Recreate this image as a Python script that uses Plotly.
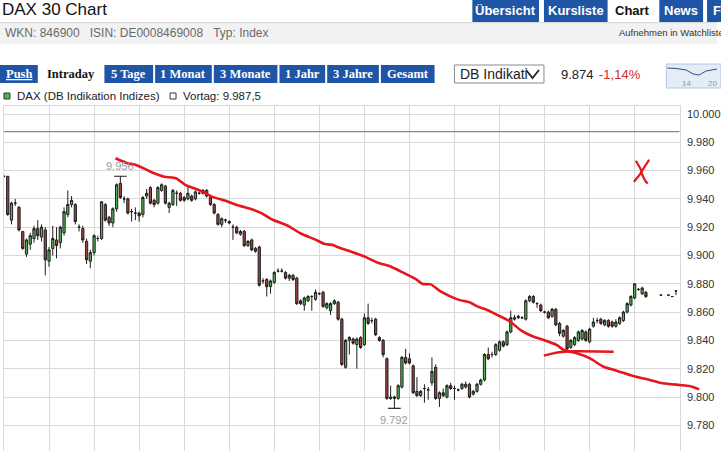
import plotly.graph_objects as go

W, H = 721, 451

# ---------------- data ----------------
slot = list(range(180))  # 5-minute slots from the start of the trading day

open_ = [
    9956, 9956, 9925, 9937, 9934, 9917, 9901, 9908, 9912, 9919, 9913, 9918,
    9896, 9905, 9911, 9909, 9916, 9929, 9936, 9936, 9920, 9919, 9910, 9896,
    9902, 9912, 9912, 9936, 9927, 9923, 9933, 9951, 9940, 9940, 9931, 9930,
    9930, 9929, 9942, 9948, 9939, 9937, 9946, 9949, 9934, 9936, 9944, 9944,
    9941, 9940, 9942, 9940, 9944, 9944, 9946, 9941, 9936, 9929, 9922, 9925,
    9924, 9920, 9920, 9915, 9917, 9907, 9911, 9905, 9906, 9882, 9883, 9878,
    9881, 9889, 9889, 9888, 9884, 9886, 9884, 9868, 9865, 9868, 9871, 9869,
    9873, 9874, 9863, 9861, 9866, 9867, 9855, 9821, 9840, 9841, 9837, 9842,
    9837, 9856, 9854, 9855, 9842, 9840, 9827, 9800, 9799, 9799, 9807, 9828,
    9827, 9822, 9804, 9801, 9806, 9805, 9810, 9821, 9799, 9803, 9800, 9808,
    9806, 9805, 9806, 9807, 9809, 9802, 9804, 9809, 9812, 9830, 9830, 9830,
    9833, 9839, 9837, 9846, 9855, 9856, 9856, 9855, 9868, 9871, 9866, 9865,
    9860, 9860, 9857, 9862, 9852, 9843, 9850, 9835, 9837, 9840, 9841, 9846,
    9839, 9850, 9854, 9855, 9851, 9854, 9853, 9850, 9852, 9854, 9860, 9865,
    9870, 9876, 9873, 9874, None, None, None, 9872, None, 9872, 9871, 9875,
]
high = [
    9956, 9956, 9938, 9940, 9935, 9917, 9912, 9916, 9921, 9925, 9922, 9920,
    9906, 9921, 9920, 9921, 9934, 9946, 9942, 9937, 9922, 9921, 9912, 9904,
    9915, 9914, 9938, 9937, 9928, 9934, 9951, 9956, 9942, 9941, 9933, 9934,
    9931, 9942, 9947, 9949, 9940, 9949, 9951, 9950, 9938, 9947, 9946, 9945,
    9942, 9950, 9943, 9946, 9945, 9947, 9947, 9942, 9937, 9930, 9927, 9926,
    9925, 9922, 9921, 9918, 9918, 9911, 9912, 9906, 9907, 9884, 9884, 9883,
    9889, 9891, 9891, 9889, 9887, 9887, 9885, 9869, 9871, 9872, 9872, 9876,
    9874, 9875, 9867, 9867, 9869, 9868, 9856, 9841, 9843, 9842, 9842, 9843,
    9859, 9866, 9856, 9856, 9843, 9841, 9828, 9808, 9801, 9809, 9829, 9834,
    9831, 9823, 9814, 9805, 9809, 9807, 9828, 9823, 9804, 9806, 9809, 9810,
    9808, 9806, 9810, 9811, 9810, 9805, 9810, 9813, 9831, 9835, 9832, 9838,
    9840, 9840, 9847, 9861, 9858, 9858, 9857, 9869, 9872, 9872, 9867, 9866,
    9861, 9861, 9863, 9863, 9853, 9848, 9851, 9841, 9843, 9847, 9848, 9847,
    9849, 9856, 9856, 9856, 9855, 9855, 9854, 9855, 9857, 9861, 9867, 9872,
    9880, 9877, 9878, 9875, None, None, None, 9872, None, 9872, 9871, 9875,
]
low = [
    9955, 9928, 9922, 9935, 9917, 9904, 9899, 9904, 9909, 9911, 9910, 9886,
    9892, 9900, 9898, 9905, 9914, 9927, 9934, 9922, 9917, 9909, 9894, 9891,
    9900, 9910, 9911, 9924, 9921, 9920, 9931, 9940, 9937, 9929, 9924, 9925,
    9924, 9927, 9940, 9936, 9934, 9936, 9945, 9936, 9930, 9935, 9935, 9938,
    9938, 9939, 9938, 9939, 9943, 9943, 9941, 9935, 9929, 9921, 9920, 9923,
    9922, 9911, 9915, 9914, 9906, 9906, 9903, 9902, 9878, 9880, 9871, 9873,
    9880, 9888, 9888, 9883, 9882, 9882, 9865, 9865, 9861, 9867, 9861, 9868,
    9872, 9863, 9862, 9858, 9865, 9854, 9822, 9820, 9830, 9837, 9820, 9834,
    9836, 9851, 9852, 9843, 9839, 9828, 9798, 9798, 9792, 9798, 9806, 9823,
    9823, 9802, 9800, 9800, 9796, 9798, 9808, 9798, 9793, 9800, 9799, 9805,
    9798, 9804, 9805, 9806, 9799, 9801, 9803, 9808, 9811, 9826, 9828, 9829,
    9832, 9835, 9836, 9845, 9854, 9855, 9855, 9854, 9867, 9866, 9863, 9860,
    9859, 9855, 9856, 9850, 9843, 9842, 9833, 9834, 9836, 9839, 9840, 9839,
    9838, 9849, 9852, 9851, 9850, 9849, 9849, 9849, 9851, 9853, 9859, 9864,
    9869, 9875, 9872, 9870, None, None, None, 9872, None, 9872, 9871, 9872,
]
close = [
    9956, 9929, 9937, 9937, 9918, 9905, 9911, 9914, 9919, 9914, 9920, 9897,
    9904, 9912, 9907, 9920, 9931, 9936, 9939, 9924, 9920, 9911, 9897, 9902,
    9914, 9912, 9938, 9925, 9923, 9933, 9950, 9941, 9940, 9930, 9931, 9930,
    9928, 9941, 9944, 9937, 9936, 9948, 9950, 9937, 9937, 9946, 9944, 9939,
    9939, 9944, 9939, 9945, 9944, 9946, 9942, 9936, 9930, 9922, 9926, 9925,
    9923, 9920, 9916, 9917, 9907, 9910, 9904, 9903, 9879, 9882, 9878, 9882,
    9888, 9889, 9889, 9884, 9886, 9883, 9866, 9866, 9870, 9871, 9871, 9874,
    9873, 9864, 9866, 9866, 9868, 9855, 9823, 9840, 9842, 9838, 9841, 9835,
    9856, 9852, 9854, 9844, 9840, 9830, 9799, 9799, 9800, 9808, 9828, 9824,
    9824, 9803, 9801, 9804, 9806, 9805, 9818, 9799, 9803, 9801, 9808, 9806,
    9806, 9805, 9809, 9809, 9800, 9804, 9809, 9812, 9830, 9827, 9830, 9837,
    9839, 9836, 9846, 9856, 9856, 9857, 9856, 9868, 9871, 9867, 9866, 9861,
    9860, 9856, 9862, 9851, 9845, 9847, 9834, 9840, 9842, 9846, 9847, 9840,
    9848, 9853, 9854, 9852, 9854, 9850, 9850, 9853, 9856, 9860, 9866, 9871,
    9880, 9876, 9877, 9871, None, None, None, 9872, None, 9872, 9871, 9875,
]

vortag = 9987.5
last_price = 9874
change_pct = -1.14
high_slot = 31
low_slot = 104

# hand-drawn red annotation (slot, price)
trend_slot = [29.7, 32.9, 35.2, 37.8, 40.0, 42.7, 45.8, 48.4, 51.9, 55.4, 59.0, 62.5,
              66.0, 68.7, 71.3, 75.8, 78.9, 82.8, 85.5, 87.7, 89.0, 92.5, 96.1, 99.6,
              103.1, 106.7, 109.8, 111.5, 113.7, 116.4, 120.8, 124.3, 126.1, 128.7,
              131.4, 134.9, 137.6, 141.1, 143.8, 147.3, 149.1, 152.6, 156.1, 159.7,
              163.2, 167.6, 171.1, 175.5, 180.0, 182.6, 185.2]
trend_price = [9968.7, 9965.2, 9964.0, 9960.9, 9958.1, 9955.7, 9954.6, 9949.8, 9946.3,
               9941.6, 9938.7, 9935.3, 9932.7, 9929.8, 9925.6, 9920.8, 9915.7, 9911.4,
               9908.1, 9907.4, 9905.8, 9902.7, 9899.2, 9894.9, 9892.1, 9887.4, 9883.2,
               9879.9, 9879.6, 9874.4, 9869.0, 9866.6, 9864.0, 9861.5, 9858.0, 9853.2,
               9847.3, 9842.6, 9840.3, 9836.7, 9833.2, 9830.9, 9827.3, 9821.4, 9818.6,
               9814.8, 9812.7, 9809.7, 9808.5, 9807.8, 9805.4]
support_slot = [143.8, 146.0, 148.6, 152.6, 157.9, 162.4]
support_price = [9829.3, 9830.7, 9831.8, 9832.3, 9832.2, 9832.0]
cross_a_slot = [168.3, 168.9, 169.6, 169.9, 170.3, 170.9, 171.5]
cross_a_price = [9967.0, 9964.3, 9961.0, 9958.0, 9955.5, 9952.5, 9951.0]
cross_b_slot = [171.4, 171.8, 171.0, 170.1, 169.3, 168.4, 167.8]
cross_b_price = [9966.0, 9967.2, 9964.2, 9960.4, 9957.0, 9954.1, 9952.0]

period_buttons = ["Push", "Intraday", "5 Tage", "1 Monat", "3 Monate", "1 Jahr", "3 Jahre", "Gesamt"]
nav_tabs = ["Übersicht", "Kursliste", "Chart", "News", "Forum"]


def de(v, nd=0):
    s = f"{v:,.{nd}f}"
    return s.replace(",", "#").replace(".", ",").replace("#", ".")


# ---------------- geometry (pixels) ----------------
PLOT_L, PLOT_R, PLOT_T = 4, 683.5, 106
PX_PER_PT = 1.415
Y_TOP = 10000 + (114 - PLOT_T) / PX_PER_PT
Y_BOT = 10000 - (H - 114) / PX_PER_PT
SLOT_PX = (PLOT_R - PLOT_L) / 180
X2_R = 715


def px(x):
    return x / W


def py(y):
    return 1 - y / H


BLUE = "#1f55a6"
fig = go.Figure()

fig.add_trace(go.Candlestick(
    x=slot, open=open_, high=high, low=low, close=close,
    increasing=dict(fillcolor="#54b454", line=dict(color="#1e1e1e", width=1)),
    decreasing=dict(fillcolor="#a34040", line=dict(color="#1e1e1e", width=1)),
    whiskerwidth=0, hoverinfo="skip", xaxis="x", yaxis="y"))

fig.add_trace(go.Scatter(x=[slot[0], slot[-1] + 1], y=[vortag, vortag], mode="lines",
                         line=dict(color="#6e6e6e", width=1), hoverinfo="skip",
                         xaxis="x", yaxis="y"))

fig.add_trace(go.Scatter(x=[slot[high_slot], slot[low_slot]],
                         y=[high[high_slot], low[low_slot]], mode="markers",
                         marker=dict(symbol="line-ew", size=9,
                                     line=dict(width=1.2, color="#1e1e1e")),
                         hoverinfo="skip", xaxis="x", yaxis="y"))

red = "#e5161d"
for xs, ys, wd in [(trend_slot, trend_price, 2.6), (support_slot, support_price, 2.4),
                   (cross_a_slot, cross_a_price, 2.2), (cross_b_slot, cross_b_price, 2.2)]:
    fig.add_trace(go.Scatter(x=xs, y=ys, mode="lines",
                             line=dict(color=red, width=wd, shape="spline", smoothing=0.6),
                             hoverinfo="skip", xaxis="x2", yaxis="y2"))

ann = []
shapes = []

# extreme labels
ann.append(dict(x=slot[high_slot], y=high[high_slot], xref="x", yref="y", text=de(high[high_slot]),
                showarrow=False, yanchor="bottom", yshift=2,
                font=dict(family="Liberation Sans, Arial", size=11, color="#9a9a9a")))
ann.append(dict(x=slot[low_slot], y=low[low_slot], xref="x", yref="y", text=de(low[low_slot]),
                showarrow=False, yanchor="top", yshift=-4,
                font=dict(family="Liberation Sans, Arial", size=11, color="#9a9a9a")))


def label(text, x, y, size, color="#222", family="Liberation Sans, Arial", xanchor="left"):
    ann.append(dict(x=px(x), y=py(y), xref="paper", yref="paper", text=text, showarrow=False,
                    xanchor=xanchor, yanchor="middle", font=dict(family=family, size=size, color=color)))


def rect(x0, y0, x1, y1, fill, line=None, lw=1):
    shapes.append(dict(type="rect", xref="paper", yref="paper", x0=px(x0), x1=px(x1),
                       y0=py(y1), y1=py(y0), fillcolor=fill,
                       line=dict(color=line or fill, width=lw if line else 0), layer="below"))


# header
label("DAX 30 Chart", 0, 9.5, 17, "#111")
rect(0, 23, W, 44, "#f2f2f2")
shapes.append(dict(type="line", xref="paper", yref="paper", x0=0, x1=1, y0=py(22.6), y1=py(22.6),
                   line=dict(color="#d6d6d6", width=1)))
label("WKN: 846900&nbsp;&nbsp;&nbsp;ISIN: DE0008469008&nbsp;&nbsp;&nbsp;Typ: Index", 3, 33.5, 12, "#6a6a6a")
label("Aufnehmen in Watchliste", 620, 33, 9.5, "#333")

# navigation tabs
tab_pos = [(475, 542), (547, 611), (615, 658), (663, 707), (711, 760)]
for name, (x0, x1) in zip(nav_tabs, tab_pos):
    active = name == "Chart"
    if not active:
        rect(x0, 0, x1, 22, BLUE)
    if name == "Forum":
        label("<b>" + name + "</b>", x0 + 4, 10, 13, "white")
    else:
        label("<b>" + name + "</b>", (x0 + x1) / 2, 10, 13, "#111" if active else "white",
              xanchor="center")

# period buttons
btn_pos = [(0, 38), (39, 104), (105, 154), (156, 213), (215, 279), (281, 327), (329, 381), (383, 437)]
for name, (x0, x1) in zip(period_buttons, btn_pos):
    active = name == "Intraday"
    if not active:
        rect(x0, 65, x1, 83, BLUE)
    txt = "<b>" + name + "</b>"
    if name == "Push":
        txt = "<b><u>" + name + "</u></b>"
    label(txt, (x0 + x1) / 2, 74, 12.5, "#111" if active else "white",
          family="Liberation Serif, Times New Roman", xanchor="center")

# dropdown
rect(457, 65, 547, 83, "white", "#8a8a8a", 1)
label("DB Indikati", 461, 74, 14, "#222")
shapes.append(dict(type="path", xref="paper", yref="paper",
                   path=f"M {px(529)} {py(70)} L {px(535.5)} {py(78)} L {px(542)} {py(70)}",
                   line=dict(color="#222", width=1.8)))
label(de(last_price), 562, 74, 13, "#222")
label(de(change_pct, 2) + "%", 600, 74, 13, "#d42a2a")

# mini sparkline
rect(670, 64, 725, 88, "#e4ecf6", "#b4c6df", 1)
shapes.append(dict(type="path", xref="paper", yref="paper",
                   path=(f"M {px(671)} {py(68)} L {px(680)} {py(68.5)} L {px(690)} {py(70)} "
                         f"L {px(697)} {py(74)} L {px(703)} {py(75)} L {px(710)} {py(71)} L {px(721)} {py(69)}"),
                   line=dict(color="#2a4f8f", width=1)))
label("14", 690, 83, 8, "#8a9ab5", xanchor="center")
label("20", 716, 83, 8, "#8a9ab5", xanchor="center")

# legend row
rect(4, 93, 10, 99, "#44bb44", "#333", 1)
label("DAX (DB Indikation Indizes)", 15, 96, 11.5, "#222")
rect(171, 93, 177, 99, "white", "#333", 1)
label("Vortag: " + de(vortag, 1), 182, 96, 11.5, "#222")

grid = "#d9d9d9"
fig.update_layout(
    width=W, height=H, margin=dict(l=0, r=0, t=0, b=0),
    paper_bgcolor="white", plot_bgcolor="rgba(0,0,0,0)", showlegend=False,
    separators=",.", boxgap=0.15,
    xaxis=dict(domain=[px(PLOT_L), px(PLOT_R)], range=[0, 180], tick0=0, dtick=12,
               showgrid=True, gridcolor=grid, gridwidth=1, showticklabels=False, ticks="",
               zeroline=False, showline=True, mirror=True, linecolor=grid,
               rangeslider=dict(visible=False), fixedrange=True, anchor="y"),
    yaxis=dict(domain=[0, py(PLOT_T)], range=[Y_BOT, Y_TOP], side="right", tick0=0, dtick=20,
               tickformat=",.0f", showgrid=True, gridcolor=grid, gridwidth=1, zeroline=False,
               showline=True, mirror=True, linecolor=grid, ticks="", ticklabelstandoff=4,
               tickfont=dict(family="Liberation Sans, Arial", size=11, color="#333"),
               fixedrange=True, anchor="x"),
    xaxis2=dict(domain=[px(PLOT_L), px(X2_R)], range=[0, (X2_R - PLOT_L) / SLOT_PX],
                visible=False, anchor="y2", fixedrange=True),
    yaxis2=dict(domain=[0, py(PLOT_T)], range=[Y_BOT, Y_TOP], visible=False, anchor="x2",
                fixedrange=True),
    annotations=ann, shapes=shapes,
)

fig.write_html("out.html", config={"displayModeBar": False},
               post_script="document.body.style.margin='0';document.body.style.overflow='hidden';")
